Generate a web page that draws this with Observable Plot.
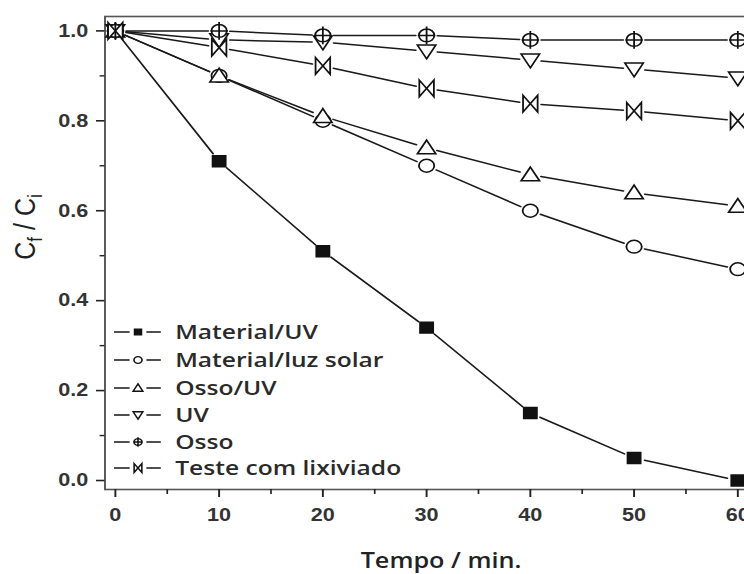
<!DOCTYPE html>
<html><head><meta charset="utf-8">
<script src="https://cdn.jsdelivr.net/npm/d3@7"></script>
<script src="https://cdn.jsdelivr.net/npm/@observablehq/plot@0.6"></script>
<style>
html,body{margin:0;padding:0;background:#fff;overflow:hidden;width:744px;height:574px}
#chart svg{transform:scaleX(1.2);transform-origin:0 0;display:block;overflow:visible}
</style></head><body><div id="chart"></div>
<script>
// ---- data ----
const times = [0, 10, 20, 30, 40, 50, 60];
const seriesNames = ["Material/UV", "Material/luz solar", "Osso/UV", "UV", "Osso", "Teste com lixiviado"];
const materialUV = [1.0, 0.71, 0.51, 0.34, 0.15, 0.05, 0.0];
const materialLuzSolar = [1.0, 0.90, 0.80, 0.70, 0.60, 0.52, 0.47];
const ossoUV = [1.0, 0.90, 0.81, 0.74, 0.68, 0.64, 0.61];
const uv = [1.0, 0.98, 0.975, 0.955, 0.935, 0.915, 0.895];
const osso = [1.0, 1.0, 0.99, 0.99, 0.98, 0.98, 0.98];
const testeLixiviado = [1.0, 0.963, 0.922, 0.872, 0.838, 0.822, 0.80];
const xTicks = [0, 10, 20, 30, 40, 50, 60];
const xMinorTicks = [5, 15, 25, 35, 45, 55];
const yTicks = [0.0, 0.2, 0.4, 0.6, 0.8, 1.0];
const yMinorTicks = [0.1, 0.3, 0.5, 0.7, 0.9];
const xLabel = "Tempo / min.";

// ---- symbols ----
const R = s => Math.sqrt(s / Math.PI);
const symSquare = {draw(c, s){const h = R(s)*0.85; c.moveTo(-h,-h); c.lineTo(h,-h); c.lineTo(h,h); c.lineTo(-h,h); c.closePath();}};
const symCircle = {draw(c, s){const r = R(s); c.moveTo(r,0); c.arc(0,0,r,0,2*Math.PI);}};
const symTriUp = {draw(c, s){const r = R(s); c.moveTo(0,-r*1.2); c.lineTo(r*1.2,r*0.95); c.lineTo(-r*1.2,r*0.95); c.closePath();}};
const symTriDown = {draw(c, s){const r = R(s); c.moveTo(0,r*1.2); c.lineTo(r*1.2,-r*0.95); c.lineTo(-r*1.2,-r*0.95); c.closePath();}};
const symOplus = {draw(c, s){const r = R(s); c.moveTo(r,0); c.arc(0,0,r,0,2*Math.PI); c.moveTo(-r*1.15,0); c.lineTo(r*1.15,0); c.moveTo(0,-r*1.4); c.lineTo(0,r*1.4);}};
const symBowtie = {draw(c, s){const r = R(s); const w=r*0.95, h=r*1.3; c.moveTo(-w,-h); c.lineTo(w,h); c.lineTo(w,-h); c.lineTo(-w,h); c.closePath();}};

const valuesList = [materialUV, materialLuzSolar, ossoUV, uv, osso, testeLixiviado];
const symbols = [symSquare, symCircle, symTriUp, symTriDown, symOplus, symBowtie];
const fills = ["#111", "white", "white", "white", "white", "white"];

const points = [];
const segments = [];
seriesNames.forEach((name, k) => {
  const v = valuesList[k];
  times.forEach((t, i) => {
    points.push({series: name, k, t, v: v[i]});
    if (i < times.length - 1) segments.push({series: name, t1: t, v1: v[i], t2: times[i+1], v2: v[i+1]});
  });
});

const tickFont = {fontFamily: "Liberation Sans, Arial, sans-serif", fontSize: 18, fontWeight: "bold"};

const marks = [
  Plot.frame({stroke: "#555", strokeWidth: 1.6}),
  Plot.axisX(xTicks, {tickSize: 8, tickPadding: 11, stroke: "#222", strokeWidth: 1.6, fill: "#333", ...tickFont}),
  Plot.axisX(xMinorTicks, {tickSize: 5, tickFormat: () => "", stroke: "#222", strokeWidth: 1.4}),
  Plot.axisY(yTicks, {tickSize: 7, tickPadding: 7, tickFormat: d3.format(".1f"), stroke: "#222", strokeWidth: 1.6, fill: "#333", ...tickFont}),
  Plot.axisY(yMinorTicks, {tickSize: 4, tickFormat: () => "", stroke: "#222", strokeWidth: 1.4}),
  Plot.arrow(segments, {x1: "t1", y1: "v1", x2: "t2", y2: "v2", headLength: 0, inset: 9, stroke: "#1a1a1a", strokeWidth: 1.5}),
];
seriesNames.forEach((name, k) => {
  marks.push(Plot.dot(points.filter(p => p.k === k), {x: "t", y: "v", symbol: symbols[k], r: 6.4, fill: fills[k], stroke: "#111", strokeWidth: 1.5}));
});
marks.push(Plot.text([xLabel], {text: d => d, frameAnchor: "bottom", lineAnchor: "bottom", dy: 78, dx: 12, fontFamily: "Open Sans", fontSize: 21, fontWeight: 600, fill: "#222"}));

const chart = Plot.plot({
  width: 640, height: 574,
  marginLeft: 87, marginRight: 17, marginTop: 16, marginBottom: 85,
  x: {domain: [-1, 61]},
  y: {domain: [-0.02, 1.032]},
  marks
});
document.getElementById("chart").appendChild(chart);

// ---- legend and y title ----
const svg = d3.select(chart);
const legendRowsY = [332, 360, 388, 415, 442, 468];
const lg = svg.append("g").attr("text-anchor", "start");
seriesNames.forEach((name, i) => {
  const y = legendRowsY[i];
  lg.append("line").attr("x1", 95).attr("x2", 108).attr("y1", y).attr("y2", y).attr("stroke", "#222").attr("stroke-width", 1.6);
  lg.append("line").attr("x1", 122).attr("x2", 134).attr("y1", y).attr("y2", y).attr("stroke", "#222").attr("stroke-width", 1.6);
  lg.append("path").attr("d", d3.symbol(symbols[i], Math.PI * 3.4 * 3.4)()).attr("transform", `translate(115,${y})`)
    .attr("fill", fills[i]).attr("stroke", "#111").attr("stroke-width", 1.3);
  lg.append("text").attr("x", 146).attr("y", y).attr("dy", "0.36em").attr("text-anchor", "start").text(name)
    .attr("font-family", "Open Sans").attr("font-size", 20.5).attr("font-weight", 600).attr("fill", "#2a2a2a");
});
const yt = svg.append("text").attr("transform", "translate(29,227) rotate(-90)").attr("text-anchor", "middle")
  .attr("font-family", "Liberation Sans, Arial, sans-serif").attr("font-size", 25).attr("fill", "#222");
yt.append("tspan").text("C");
yt.append("tspan").text("f").attr("font-size", 17).attr("dy", 6);
yt.append("tspan").text(" / C").attr("dy", -6);
yt.append("tspan").text("i").attr("font-size", 17).attr("dy", 6);
</script></body></html>
